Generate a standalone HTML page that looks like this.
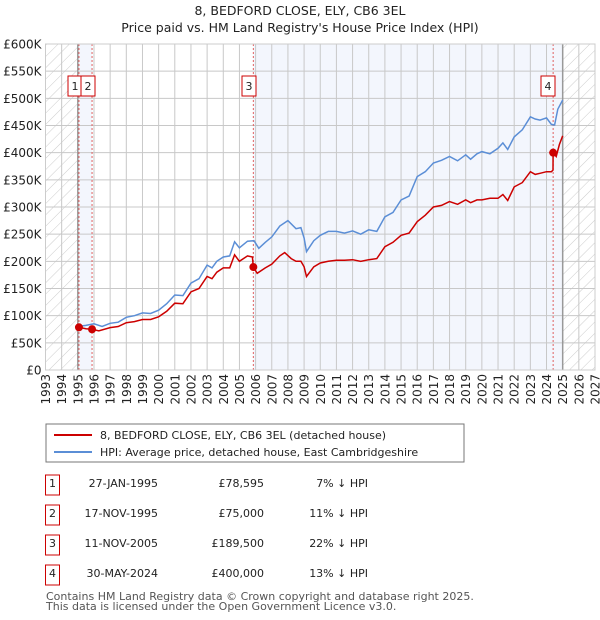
<!DOCTYPE html>
<html><head><meta charset="utf-8"><style>
body{margin:0;background:#fff;font-family:"Liberation Sans",sans-serif;}
#wrap{position:relative;width:600px;height:620px;overflow:hidden}
</style></head><body><div id="wrap">
<svg id="svg" width="600" height="620" xmlns="http://www.w3.org/2000/svg" font-family="DejaVu Sans, Liberation Sans, sans-serif">
<defs><pattern id="hatch" width="8" height="8" patternUnits="userSpaceOnUse" patternTransform="rotate(45)"><line x1="0" y1="0" x2="0" y2="8" stroke="#ccc" stroke-width="1"/></pattern></defs>
<text x="300" y="15" text-anchor="middle" font-size="12.5" fill="#222">8, BEDFORD CLOSE, ELY, CB6 3EL</text>
<text x="300" y="32" text-anchor="middle" font-size="12.5" fill="#222">Price paid vs. HM Land Registry's House Price Index (HPI)</text>
<g id="plot"></g>
<g>
<rect x="46" y="424" width="418" height="38" fill="#fff" stroke="#777"/>
<line x1="54" y1="435" x2="92" y2="435" stroke="#cc0000" stroke-width="2"/>
<text x="100" y="439" font-size="11" fill="#222">8, BEDFORD CLOSE, ELY, CB6 3EL (detached house)</text>
<line x1="54" y1="452" x2="92" y2="452" stroke="#5b8ed6" stroke-width="2"/>
<text x="100" y="456" font-size="11" fill="#222">HPI: Average price, detached house, East Cambridgeshire</text>
</g>
<g id="table" font-size="11" fill="#222"></g>
<text x="46" y="600" font-size="11" fill="#555">Contains HM Land Registry data © Crown copyright and database right 2025.</text>
<text x="46" y="610" font-size="11" fill="#555">This data is licensed under the Open Government Licence v3.0.</text>
</svg></div>
<script>
const yTicks=[0,50,100,150,200,250,300,350,400,450,500,550,600];
const yTickLabels=["£0","£50K","£100K","£150K","£200K","£250K","£300K","£350K","£400K","£450K","£500K","£550K","£600K"];
const xYears=[1993,1994,1995,1996,1997,1998,1999,2000,2001,2002,2003,2004,2005,2006,2007,2008,2009,2010,2011,2012,2013,2014,2015,2016,2017,2018,2019,2020,2021,2022,2023,2024,2025,2026,2027];
const hpiT=[1995.0,1995.5,1996.0,1996.5,1997.0,1997.5,1998.0,1998.5,1999.0,1999.5,2000.0,2000.5,2001.0,2001.5,2002.0,2002.5,2003.0,2003.3,2003.6,2004.0,2004.4,2004.7,2005.0,2005.5,2005.9,2006.2,2006.6,2007.0,2007.5,2008.0,2008.5,2008.8,2009.0,2009.15,2009.6,2010.0,2010.5,2011.0,2011.5,2012.0,2012.5,2013.0,2013.5,2014.0,2014.5,2015.0,2015.5,2016.0,2016.5,2017.0,2017.5,2018.0,2018.5,2019.0,2019.3,2019.7,2020.0,2020.5,2021.0,2021.3,2021.6,2022.0,2022.5,2023.0,2023.3,2023.6,2024.0,2024.3,2024.5,2024.7,2025.0];
const hpiV=[80,82,85,80,86,88,97,100,105,104,110,122,138,137,160,168,193,188,200,208,210,236,225,237,238,224,235,245,265,275,260,262,243,218,238,248,255,255,252,256,250,258,255,282,290,313,320,356,365,381,386,393,385,396,388,398,402,398,408,418,406,429,442,466,462,460,464,452,451,480,497];
const priceT=[1995.07,1995.5,1995.88,1996.3,1997.0,1997.5,1998.0,1998.5,1999.0,1999.5,2000.0,2000.5,2001.0,2001.5,2002.0,2002.5,2003.0,2003.3,2003.6,2004.0,2004.4,2004.7,2005.0,2005.5,2005.8,2005.86,2006.1,2006.6,2007.0,2007.5,2007.8,2008.2,2008.5,2008.8,2009.0,2009.15,2009.6,2010.0,2010.5,2011.0,2011.5,2012.0,2012.5,2013.0,2013.5,2014.0,2014.5,2015.0,2015.5,2016.0,2016.5,2017.0,2017.5,2018.0,2018.5,2019.0,2019.3,2019.7,2020.0,2020.5,2021.0,2021.3,2021.6,2022.0,2022.5,2023.0,2023.3,2023.6,2024.0,2024.3,2024.4,2024.41,2024.6,2024.8,2025.0];
const priceV=[78.6,76,75,72,78,80,87,89,93,93,98,108,123,122,144,150,172,168,180,188,188,212,200,210,208,189.5,178,188,195,210,216,205,200,200,190,172,190,197,200,202,202,203,200,203,205,227,235,248,252,273,285,300,303,310,305,313,308,313,313,316,316,323,312,337,345,365,360,362,365,365,368,400,393,415,431];
const saleT=[1995.07,1995.88,2005.86,2024.41];
const saleV=[78.595,75,189.5,400];
const saleLabels=["1","2","3","4"];
const saleDates=["27-JAN-1995","17-NOV-1995","11-NOV-2005","30-MAY-2024"];
const salePrices=["£78,595","£75,000","£189,500","£400,000"];
const saleHpi=["7% ↓ HPI","11% ↓ HPI","22% ↓ HPI","13% ↓ HPI"];

const NS="http://www.w3.org/2000/svg";
const L=45.5,R=595,T=44,B=370;
const x=t=>L+(t-1993)*(R-L)/34;
const y=v=>B-v*(B-T)/600;
function mk(tag,attrs,parent){const e=document.createElementNS(NS,tag);for(const k in attrs)e.setAttribute(k,attrs[k]);parent.appendChild(e);return e;}
const P=document.getElementById('plot');
let e;
e=mk('rect',{x:L,y:T,width:R-L,height:B-T,fill:'#fff'},P);


e=mk('rect',{x:x(1995.07),y:T,width:x(1995.88)-x(1995.07),height:B-T,fill:'#f3f6fd'},P);


e=mk('rect',{x:x(2005.86),y:T,width:x(2025)-x(2005.86),height:B-T,fill:'#f3f6fd'},P);


e=mk('rect',{x:L,y:T,width:x(1995)-L,height:B-T,fill:'url(#hatch)'},P);


e=mk('rect',{x:x(2025),y:T,width:R-x(2025),height:B-T,fill:'url(#hatch)'},P);


yTicks.forEach((v,i)=>{
 e=mk('line',{x1:L,x2:R,y1:y(v),y2:y(v),stroke:'#c8c8c8','stroke-width':1},P);
 
 
 e=mk('text',{x:L-4,y:y(v)+4.5,'text-anchor':'end','font-size':12,fill:'#222'},P);
 e.textContent=yTickLabels[i];
 
 
});
xYears.forEach(t=>{
 e=mk('line',{x1:x(t),x2:x(t),y1:T,y2:B,stroke:'#c8c8c8','stroke-width':1},P);
 
 
 e=mk('text',{x:0,y:0,'text-anchor':'end','font-size':12,fill:'#222',transform:`translate(${x(t)+4.5},${B+4}) rotate(-90)`},P);
 e.textContent=t;
 
 
});
e=mk('line',{x1:x(1995),x2:x(1995),y1:T,y2:B,stroke:'#999','stroke-width':1.5},P);


e=mk('line',{x1:x(2025),x2:x(2025),y1:T,y2:B,stroke:'#999','stroke-width':1.5},P);


saleT.forEach(t=>{
 e=mk('line',{x1:x(t),x2:x(t),y1:T,y2:B,stroke:'#e06060','stroke-width':1,'stroke-dasharray':'2,2'},P);
 
 
});
e=mk('rect',{x:L,y:T,width:R-L,height:B-T,fill:'none',stroke:'#ccc'},P);


function path(ts,vs){return ts.map((t,i)=>(i?'L':'M')+x(t).toFixed(1)+','+y(vs[i]).toFixed(1)).join('');}
e=mk('path',{d:path(hpiT,hpiV),fill:'none',stroke:'#5b8ed6','stroke-width':1.5},P);


e=mk('path',{d:path(priceT,priceV),fill:'none',stroke:'#cc0000','stroke-width':1.5},P);


saleT.forEach((t,i)=>{
 e=mk('circle',{cx:x(t),cy:y(saleV[i]),r:4,fill:'#cc0000'},P);
 
 
});
const boxX=[68,81,242,541];
saleLabels.forEach((s,i)=>{
 e=mk('rect',{x:boxX[i],y:76,width:14,height:20,fill:'#fff',stroke:'#cc0000'},P);
 
 
 e=mk('text',{x:boxX[i]+7,y:90,'text-anchor':'middle','font-size':11,fill:'#222'},P);
 e.textContent=s;
 
 
});
const TB=document.getElementById('table');
const rowY=[483,513,543,573];
saleLabels.forEach((s,i)=>{
 const yy=rowY[i];
 e=mk('rect',{x:45.5,y:yy-8,width:14,height:20,fill:'#fff',stroke:'#cc0000'},TB);
 
 
 e=mk('text',{x:52.5,y:yy+4,'text-anchor':'middle'},TB);e.textContent=s;
 
 
 e=mk('text',{x:158,y:yy+4,'text-anchor':'end'},TB);e.textContent=saleDates[i];
 
 
 e=mk('text',{x:264,y:yy+4,'text-anchor':'end'},TB);e.textContent=salePrices[i];
 
 
 e=mk('text',{x:368,y:yy+4,'text-anchor':'end'},TB);e.textContent=saleHpi[i];
 
 
});
</script></body></html>
